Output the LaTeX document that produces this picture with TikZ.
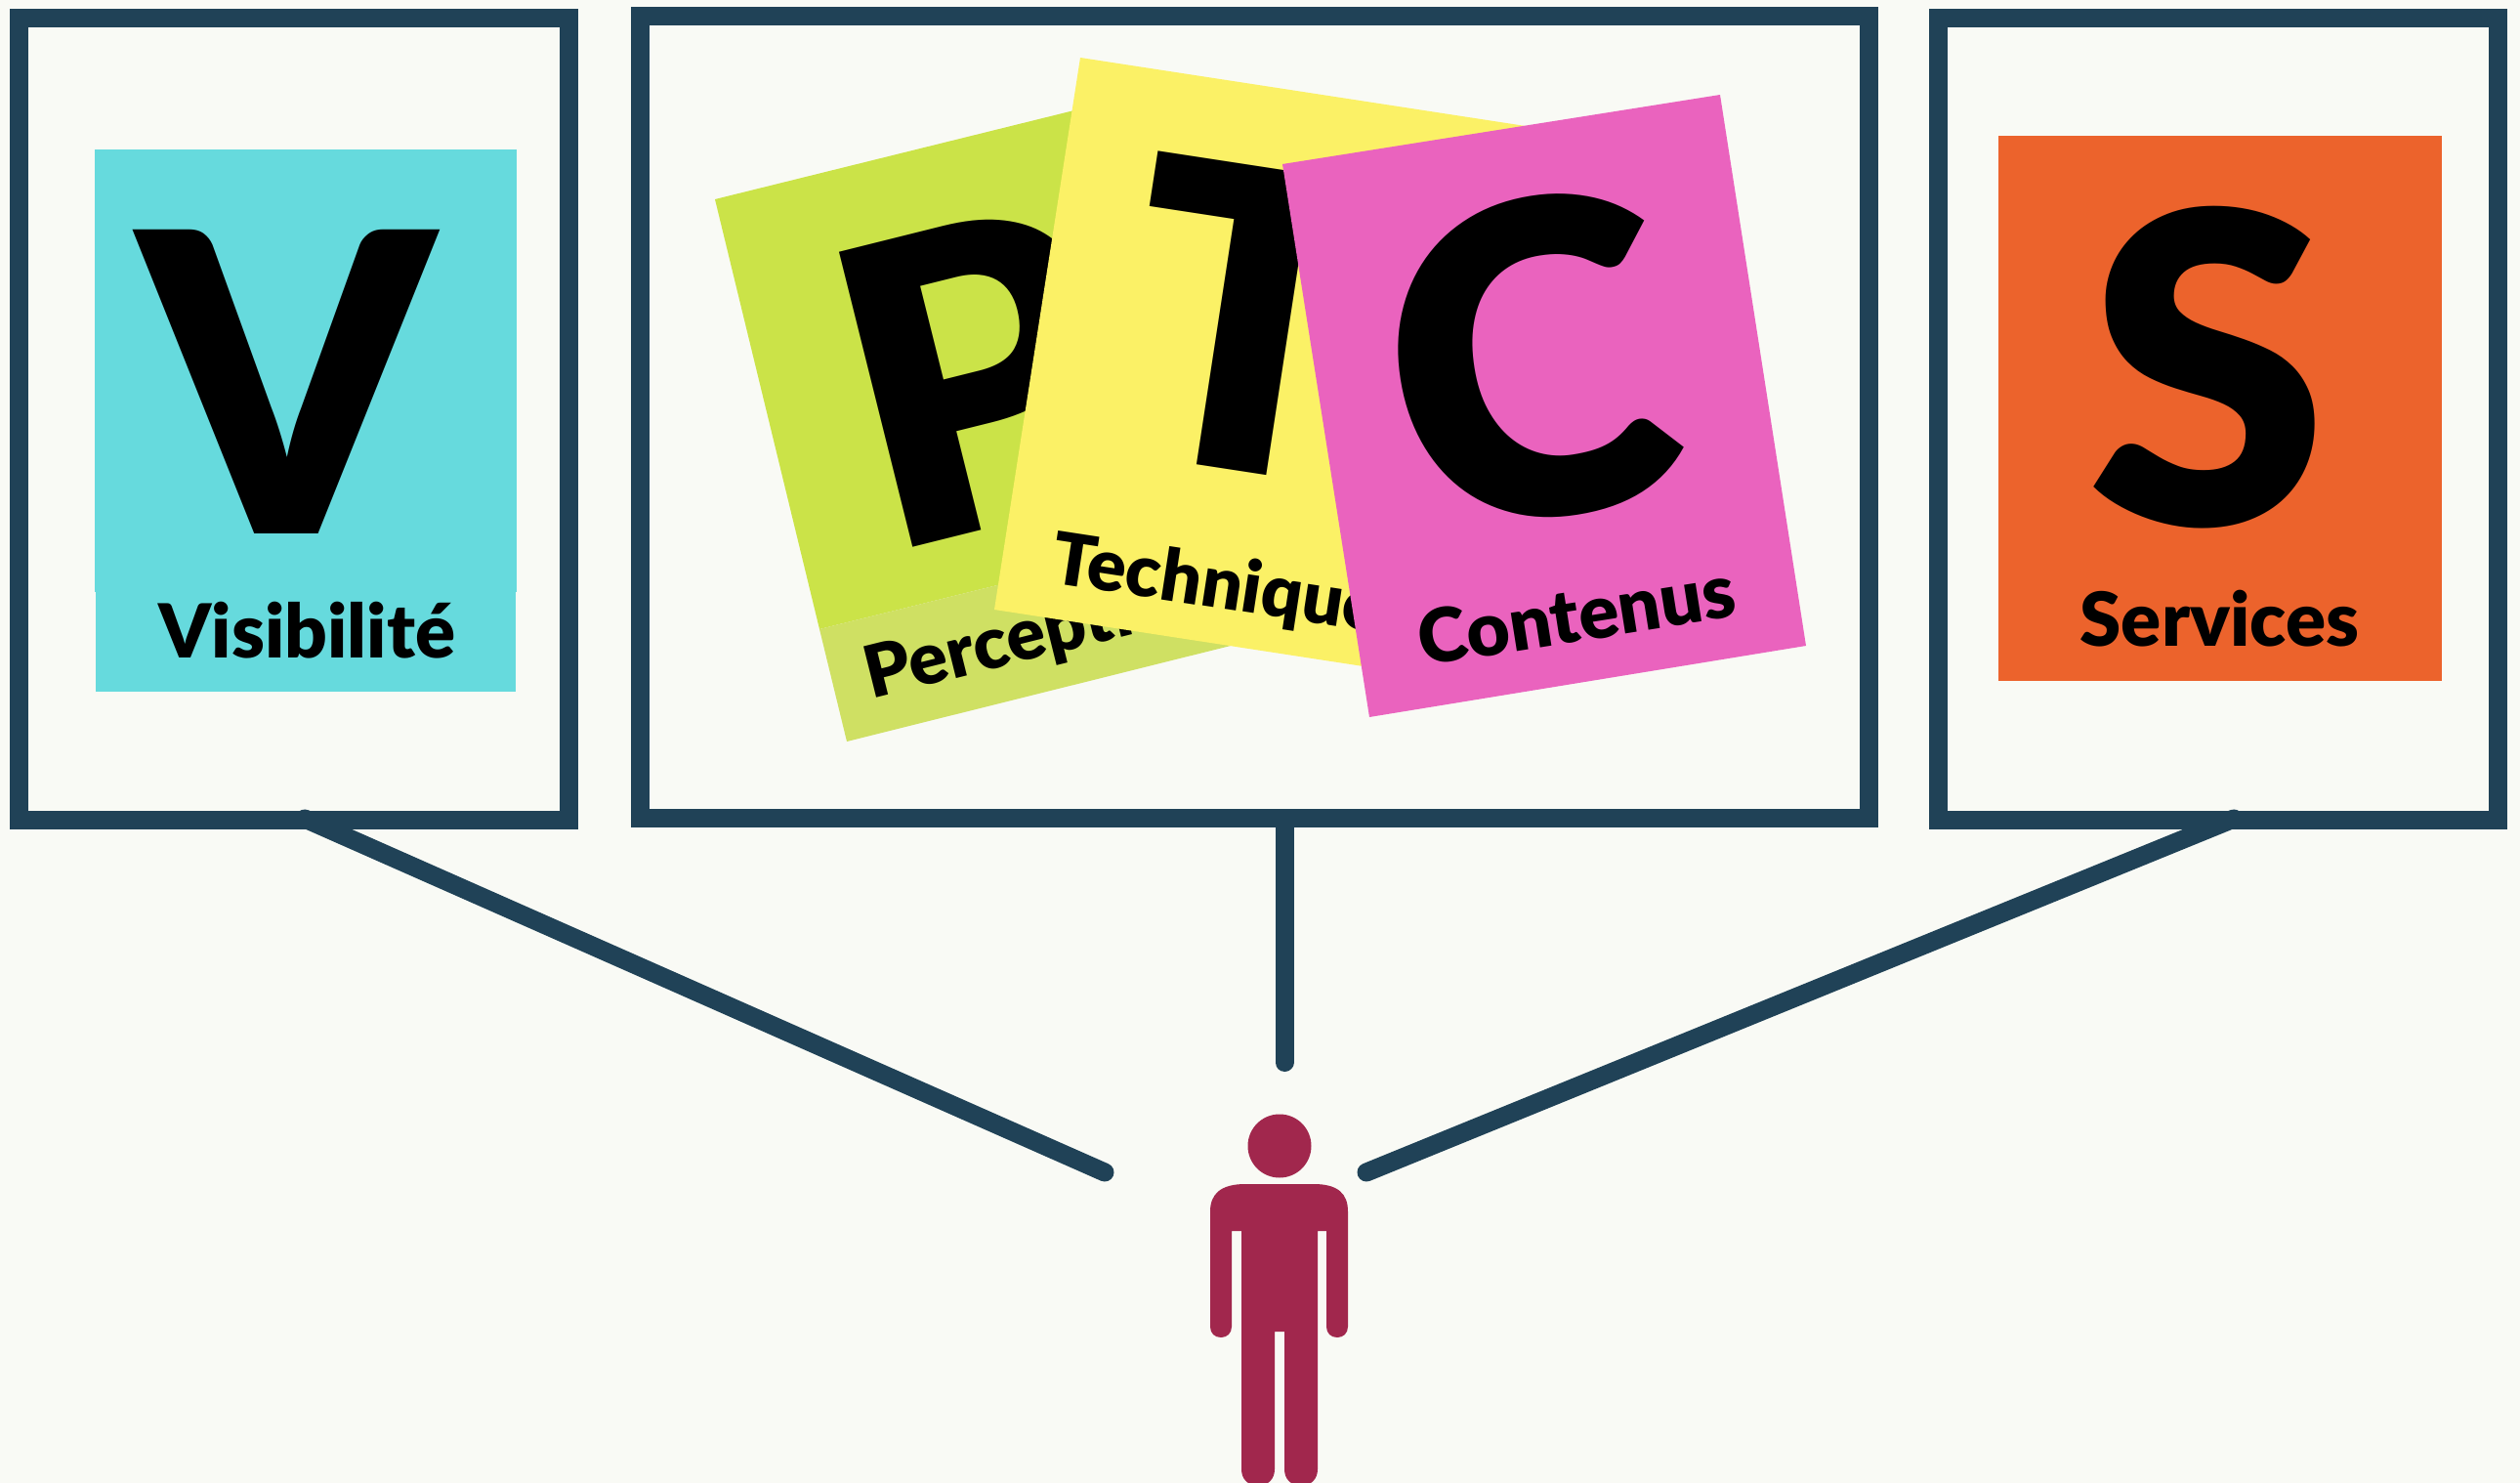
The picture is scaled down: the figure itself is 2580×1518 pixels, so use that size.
\documentclass[tikz,border=0pt]{standalone}
\usepackage{fontspec}
\setmainfont{Lato}[BoldFont={Lato Black}]
\definecolor{paper}{HTML}{F9FAF5}
\definecolor{frameC}{HTML}{204257}
\definecolor{visC}{HTML}{66DADD}
\definecolor{perC}{HTML}{CBE348}
\definecolor{perL}{HTML}{CFE063}
\definecolor{tecC}{HTML}{FBF166}
\definecolor{conC}{HTML}{EA63BE}
\definecolor{serC}{HTML}{EC632C}
\definecolor{manC}{HTML}{A1274D}
\begin{document}
\begin{tikzpicture}[x=0.01cm,y=-0.01cm,frameb/.style={shape=rectangle,draw=frameC,line width=0.19cm,inner sep=0,outer sep=0,minimum height=8.2cm},link/.style={draw=frameC,line width=0.19cm,line cap=round},big/.style={inner sep=0,font=\fontsize{121.5}{124}\selectfont\bfseries},bigw/.style={big,font=\fontsize{126}{124}\selectfont\bfseries},small/.style={inner sep=0,anchor=base west,font=\fontsize{21.7}{26}\selectfont\bfseries},smalln/.style={small,font=\fontsize{21}{26}\selectfont\bfseries}]
\useasboundingbox (0,0) rectangle (2580,1518);
\fill[paper] (0,0) rectangle (2580,1518);

\node[frameb,minimum width=5.63cm] (frameV) at (301,429) {};
\node[frameb,minimum width=12.57cm] (frameP) at (1284.5,427) {};
\node[frameb,minimum width=5.73cm] (frameS) at (2271,429) {};

\fill[visC] (97,153) rectangle (529,606);
\fill[visC] (98,606) rectangle (528,708);
\node[big] (letV) at (293,391) {V};
\node[small] (txtV) at (162,673) {Visibilité};

\fill[perC] (732,204) -- (1217,84) -- (1324,524) -- (839,644) -- cycle;
\fill[perL] (839,644) -- (1324,524) -- (1352,638) -- (867,759) -- cycle;
\node[big,rotate=14] (letP) at (1000,384) {P};
\node[smalln,rotate=14] (txtP) at (892,716) {Perception};

\fill[tecC] (1106,59) -- (1640,141) -- (1552,706) -- (1018,624) -- cycle;
\node[big,rotate=-8.7] (letT) at (1285,327) {T};
\node[smalln,rotate=-8.7] (txtT) at (1074,596) {Technique};

\fill[conC] (1313,168) -- (1761,97) -- (1849,661) -- (1402,734) -- cycle;
\node[bigw,rotate=9] (letC) at (1565,368) {C};
\node[small,rotate=9] (txtC) at (1456,682) {Contenus};

\fill[serC] (2046,139) rectangle (2500,697);
\node[bigw] (letS) at (2260,376) {S};
\node[small] (txtS) at (2129,661) {Services};

% man
\fill[manC] (1310,1173) circle [radius=32.5];
\fill[manC] (1239,1240) .. controls (1239,1222) and (1250,1212) .. (1275,1212) -- (1345,1212) .. controls (1370,1212) and (1380,1222) .. (1380,1240) -- (1380,1358) .. controls (1380,1365) and (1375,1369) .. (1369,1369) .. controls (1363,1369) and (1358,1365) .. (1358,1358) -- (1358,1260) -- (1349,1260) -- (1349,1504) .. controls (1349,1514) and (1342,1521) .. (1332,1521) .. controls (1322,1521) and (1315,1514) .. (1315,1504) -- (1315,1363) -- (1305,1363) -- (1305,1504) .. controls (1305,1514) and (1298,1521) .. (1288,1521) .. controls (1278,1521) and (1271,1514) .. (1271,1504) -- (1271,1260) -- (1261,1260) -- (1261,1358) .. controls (1261,1365) and (1256,1369) .. (1250,1369) .. controls (1244,1369) and (1239,1365) .. (1239,1358) -- cycle;

\coordinate (startV) at (312,838);
\coordinate (endV) at (1131,1200);
\coordinate (startP) at (1315,846);
\coordinate (endP) at (1315,1087.5);
\coordinate (startS) at (2287,838);
\coordinate (endS) at (1399,1200);
\draw[link] (startV) -- (endV);
\draw[link] (startP) -- (endP);
\draw[link] (startS) -- (endS);
\end{tikzpicture}
\end{document}
